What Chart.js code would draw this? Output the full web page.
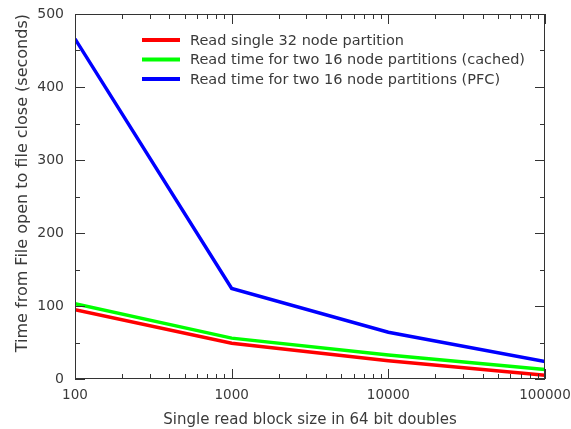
<!DOCTYPE html>
<html>
<head>
<meta charset="utf-8">
<script src="https://cdn.jsdelivr.net/npm/chart.js@4.4.0/dist/chart.umd.min.js"></script>
<style>
  html, body { margin: 0; padding: 0; background: #fff; }
  #wrap { width: 571px; height: 429px; }
</style>
</head>
<body>
<div id="wrap"><canvas id="readTimeChart"></canvas></div>
<script>
var blockSizes = [100, 1000, 10000, 100000];
var singlePartition = [95, 49, 25, 5];
var cachedPartitions = [103, 56, 33, 13];
var pfcPartitions = [466, 124, 64, 24];

var xTickValues = [100, 1000, 10000, 100000];
var seriesLabels = [
  "Read single 32 node partition",
  "Read time for two 16 node partitions (cached)",
  "Read time for two 16 node partitions (PFC)"
];

var axisColor = "#333";
var textColor = "#3a3a3a";
var fontFamily = "'DejaVu Sans', 'Liberation Sans', sans-serif";

function points(ys) {
  return blockSizes.map(function(x, i) { return { x: x, y: ys[i] }; });
}

// ticks pointing into the plot, on all four sides
var inwardTicks = {
  id: "inwardTicks",
  afterDraw: function(chart) {
    var ctx = chart.ctx, a = chart.chartArea;
    var xs = chart.scales.x, ys = chart.scales.y;
    ctx.save();
    ctx.strokeStyle = axisColor;
    ctx.lineWidth = 1;
    ctx.strokeRect(a.left + 0.5, a.top + 0.5, a.right - a.left - 1, a.bottom - a.top - 1);
    ctx.beginPath();
    for (var d = 100; d <= 100000; d *= 10) {
      for (var m = 1; m < 10; m++) {
        var v = d * m;
        if (v > 100000) break;
        var px = Math.round(xs.getPixelForValue(v)) + 0.5;
        var len = m === 1 ? 10 : 5;
        ctx.moveTo(px, a.bottom); ctx.lineTo(px, a.bottom - len);
        ctx.moveTo(px, a.top); ctx.lineTo(px, a.top + len);
      }
    }
    for (var y = 0; y <= 500; y += 50) {
      var py = Math.round(ys.getPixelForValue(y)) + 0.5;
      var l = y % 100 === 0 ? 10 : 5;
      ctx.moveTo(a.left, py); ctx.lineTo(a.left + l, py);
      ctx.moveTo(a.right, py); ctx.lineTo(a.right - l, py);
    }
    ctx.stroke();
    ctx.restore();
  }
};

// legend drawn inside the plot, top-left
var innerLegend = {
  id: "innerLegend",
  afterDatasetsDraw: function(chart) {
    var ctx = chart.ctx, a = chart.chartArea;
    var x0 = a.left + 67, y0 = a.top + 26;
    ctx.save();
    ctx.font = "14.5px " + fontFamily;
    ctx.textBaseline = "middle";
    ctx.fillStyle = textColor;
    chart.data.datasets.forEach(function(ds, i) {
      var y = y0 + i * 19.5;
      ctx.strokeStyle = ds.borderColor;
      ctx.lineWidth = 4;
      ctx.beginPath();
      ctx.moveTo(x0, y); ctx.lineTo(x0 + 38, y);
      ctx.stroke();
      ctx.fillText(ds.label, x0 + 48, y + 1);
    });
    ctx.restore();
  }
};

var ctx = document.getElementById("readTimeChart").getContext("2d");
var myChart = new Chart(ctx, {
  type: "line",
  data: {
    datasets: [
      { label: seriesLabels[0], data: points(singlePartition), borderColor: "#ff0000" },
      { label: seriesLabels[1], data: points(cachedPartitions), borderColor: "#00ff00" },
      { label: seriesLabels[2], data: points(pfcPartitions), borderColor: "#0000ff" }
    ]
  },
  options: {
    responsive: true,
    maintainAspectRatio: false,
    animation: false,
    layout: { padding: { left: 0, right: 26, top: 14, bottom: 0 } },
    elements: {
      line: { borderWidth: 3.5, tension: 0, fill: false },
      point: { radius: 0 }
    },
    plugins: {
      legend: { display: false },
      tooltip: { enabled: false }
    },
    scales: {
      x: {
        type: "logarithmic",
        min: 100,
        max: 100000,
        grid: { display: false, drawTicks: false },
        border: { display: false },
        afterBuildTicks: function(scale) {
          scale.ticks = xTickValues.map(function(v) { return { value: v }; });
        },
        afterFit: function(scale) {
          scale.height = 50;
          scale.paddingLeft = 0;
          scale.paddingRight = 0;
        },
        ticks: {
          color: textColor,
          padding: 8,
          maxRotation: 0,
          autoSkip: false,
          font: { family: fontFamily, size: 13.5 },
          callback: function(v) { return String(v); }
        },
        title: {
          display: true,
          text: "Single read block size in 64 bit doubles",
          color: textColor,
          padding: { top: 0, bottom: 0 },
          font: { family: fontFamily, size: 15 }
        }
      },
      y: {
        min: 0,
        max: 500,
        grid: { display: false, drawTicks: false },
        border: { display: false },
        afterFit: function(scale) {
          scale.width = 75;
          scale.paddingTop = 0;
          scale.paddingBottom = 0;
        },
        ticks: {
          stepSize: 100,
          color: textColor,
          padding: 11,
          font: { family: fontFamily, size: 14 }
        },
        title: {
          display: true,
          text: "Time from File open to file close (seconds)",
          align: "end",
          color: textColor,
          padding: { top: 13, bottom: 0 },
          font: { family: fontFamily, size: 16 }
        }
      }
    }
  },
  plugins: [inwardTicks, innerLegend]
});
</script>
</body>
</html>
